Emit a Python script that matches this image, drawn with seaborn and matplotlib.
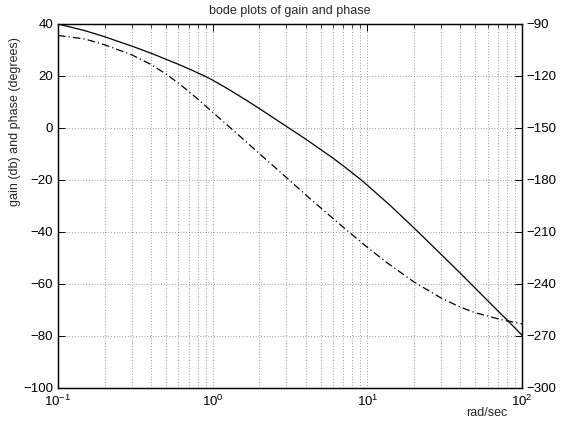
import matplotlib
matplotlib.use("Agg")
import matplotlib.pyplot as plt
import seaborn as sns
import pandas as pd
import numpy as np
from matplotlib.ticker import LogLocator, NullFormatter, FixedLocator

sns.set_theme(style="white")
plt.rcParams['font.family'] = ['Liberation Sans', 'DejaVu Sans']
plt.rcParams['mathtext.fontset'] = 'custom'
plt.rcParams['mathtext.rm'] = 'Liberation Sans'
plt.rcParams['mathtext.it'] = 'Liberation Sans'

# gain data (dB)
gain_freq = [0.1, 0.15, 0.2, 0.3, 0.4, 0.5, 0.6, 0.7, 0.8, 0.9, 1.0, 1.2, 1.4, 1.7, 2.0, 2.5,
             3.0, 4.0, 5.0, 6.0, 7.0, 8.0, 9.0, 10, 14, 20, 30, 40, 50, 60, 70, 80, 90, 100]
gain_db = [40, 37.4, 35.1, 31.5, 28.75, 26.4, 24.5, 22.8, 21.2, 19.8, 18.4, 15.7, 13.3, 10.2,
           7.5, 3.7, 0.6, -4.3, -8.3, -11.6, -14.6, -17.3, -19.7, -22.0, -29.7, -38.4, -48.6,
           -55.9, -61.7, -66.4, -70.4, -73.8, -76.9, -79.7]

# phase data (degrees)
phase_freq = [0.1, 0.15, 0.2, 0.3, 0.4, 0.5, 0.6, 0.7, 0.8, 1.0, 1.4, 2.0, 3.0, 4.2, 5.5,
              7.0, 8.5, 10, 13.3, 20, 30, 40, 50, 72, 100]
phase_deg = [-96.6, -98.7, -102, -107.8, -113.4, -118.9, -124.1, -128.9, -133.3, -140.9,
             -152.4, -164.7, -178.6, -190.3, -199.3, -207.3, -213.6, -218.8, -227.5,
             -238.8, -248.1, -253.4, -256.6, -260.4, -263.0]

left_ticks = [-100, -80, -60, -40, -20, 0, 20, 40]
right_ticks = [-300, -270, -240, -210, -180, -150, -120, -90]

gdf = pd.DataFrame({"w": gain_freq, "g": gain_db})
pdf = pd.DataFrame({"w": phase_freq, "p": phase_deg})

fig = plt.figure(figsize=(5.67, 4.23), dpi=100)
ax = fig.add_axes([0.1023, 0.0828, 0.8183, 0.8605])
ax2 = ax.twinx()

sns.lineplot(data=gdf, x="w", y="g", ax=ax, color="black", linewidth=0.9)
sns.lineplot(data=pdf, x="w", y="p", ax=ax2, color="black", linewidth=0.9, linestyle="-.")
ax2.lines[0].set_dashes([6, 2.5, 1, 2.5])

for a in (ax, ax2):
    a.set_xscale("log")
    a.set_xlim(0.1, 100)
ax.set_ylim(-100, 40)
ax2.set_ylim(-300, -90)
ax.yaxis.set_major_locator(FixedLocator(left_ticks))
ax2.yaxis.set_major_locator(FixedLocator(right_ticks))
ax.set_yticklabels([str(t).replace('-', '\u2212') for t in left_ticks])
ax2.set_yticklabels([str(t).replace('-', '\u2212') for t in right_ticks])
ax.xaxis.set_major_locator(LogLocator(base=10, numticks=10))
ax.xaxis.set_minor_locator(LogLocator(base=10, subs=np.arange(2, 10), numticks=20))
ax.xaxis.set_minor_formatter(NullFormatter())

ax.grid(True, which="major", axis="both", linestyle=(0, (1, 3)), color="#444444", linewidth=0.5)
ax.grid(True, which="minor", axis="x", linestyle=(0, (1, 3)), color="#444444", linewidth=0.5)

for a in (ax, ax2):
    a.tick_params(axis="both", which="major", direction="in", length=5, width=0.7,
                  labelsize=9.5, colors="black", top=True)
    a.tick_params(axis="x", which="minor", direction="in", length=3, width=0.6, top=True)
    for s in a.spines.values():
        s.set_color("black")
        s.set_linewidth(0.9)
ax.tick_params(axis="y", right=False)
ax2.tick_params(axis="y", left=False, right=True)
ax.tick_params(axis="x", pad=4)

ax.set_xlabel("rad/sec", fontsize=9)
ax.xaxis.set_label_coords(0.925, -0.052)
ax.set_ylabel("gain (db) and phase (degrees)", fontsize=9)
ax.yaxis.set_label_coords(-0.08, 0.733)
ax2.set_ylabel("")
ax.set_title("bode plots of gain and phase", fontsize=9, pad=7)

fig.savefig("out.png", dpi=100)
